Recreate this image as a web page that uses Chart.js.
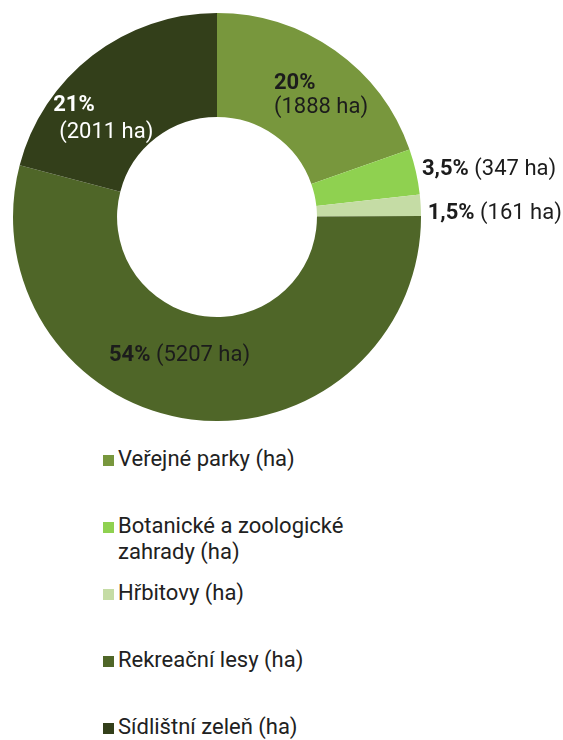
<!DOCTYPE html>
<html lang="cs">
<head>
<meta charset="utf-8">
<title>Struktura ploch zeleně</title>
<script src="https://cdn.jsdelivr.net/npm/chart.js@4.4.1/dist/chart.umd.min.js"></script>
<style>
    html, body { margin: 0; padding: 0; background: #fff; }
    body { width: 563px; height: 740px; position: relative; overflow: hidden; font-family: Roboto, 'Noto Sans', sans-serif; }
    #wrap { position: absolute; left: 0; top: 0; width: 563px; height: 440px; }
    #legend { position: absolute; left: 103px; top: 446px; margin: 0; padding: 0; list-style: none; }
    #legend li { position: relative; height: 67px; width: 260px; padding-left: 15px; font-size: 22px; line-height: 26px; color: #212121; }
    #legend li .box { position: absolute; left: 0; top: 9px; width: 11px; height: 11px; }
</style>
</head>
<body>
<div id="wrap"><canvas id="greenChart" width="563" height="440"></canvas></div>
<ul id="legend"></ul>

<script>
    // ─── 1. DATA ────────────────────────────────────────────────────────────────
    const categories = ['Veřejné parky (ha)', 'Botanické a zoologické zahrady (ha)', 'Hřbitovy (ha)', 'Rekreační lesy (ha)', 'Sídlištní zeleň (ha)'];
    const areaHa     = [1888, 347, 161, 5207, 2011];
    const shareText  = ['20%', '3,5%', '1,5%', '54%', '21%'];
    const colors     = ['#78973d', '#8fd150', '#c5dca5', '#4f6628', '#333f1a'];

    // where each value label sits, relative to its slice
    const labelLayout = [
        { mode: 'inside',  dx: -31, dy: -12,  gap: 24, indent: 0, color: '#1c1c1c' },
        { mode: 'outside', dx: 6,   dy: -4.5, color: '#1c1c1c' },
        { mode: 'outside', dx: 7,   dy: 6,    color: '#1c1c1c' },
        { mode: 'single',  dx: -89, dy: -15,  color: '#1c1c1c' },
        { mode: 'inside',  dx: -71, dy: 7,    gap: 27, indent: 6, color: '#ffffff' }
    ];

    const FONT_SIZE = 22;
    const fontBold  = `bold ${FONT_SIZE}px Roboto`;
    const fontReg   = `${FONT_SIZE}px Roboto`;

    // ─── 2. POPISKY HODNOT ─────────────────────────────────────────────────────
    function drawRuns(ctx, runs, x, yCenter, color) {
        // y is the cap-height middle, turn it into an alphabetic baseline
        const base = yCenter + FONT_SIZE * 0.355;
        ctx.fillStyle = color;
        runs.forEach(r => {
            ctx.font = r.bold ? fontBold : fontReg;
            ctx.fillText(r.t, x, base);
            x += ctx.measureText(r.t).width;
        });
    }

    const valueLabels = {
        id: 'valueLabels',
        afterDatasetsDraw(chart) {
            const ctx = chart.ctx;
            const meta = chart.getDatasetMeta(0);
            ctx.save();
            ctx.textAlign = 'left';
            ctx.textBaseline = 'alphabetic';
            meta.data.forEach((arc, i) => {
                const p = arc.getProps(['x', 'y', 'startAngle', 'endAngle', 'innerRadius', 'outerRadius'], true);
                const mid = (p.startAngle + p.endAngle) / 2;
                const lay = labelLayout[i];
                const ha = '(' + areaHa[i] + ' ha)';
                const r = lay.mode === 'outside' ? p.outerRadius : (p.innerRadius + p.outerRadius) / 2;
                const ax = p.x + Math.cos(mid) * r + lay.dx;
                const ay = p.y + Math.sin(mid) * r + lay.dy;

                if (lay.mode === 'inside') {
                    drawRuns(ctx, [{ t: shareText[i], bold: true }], ax, ay, lay.color);
                    drawRuns(ctx, [{ t: ha }], ax + lay.indent, ay + lay.gap, lay.color);
                } else {
                    drawRuns(ctx, [{ t: shareText[i], bold: true }, { t: ' ' + ha }], ax, ay, lay.color);
                }
            });
            ctx.restore();
        }
    };

    // ─── 3. GRAF ────────────────────────────────────────────────────────────────
    const chart = new Chart(document.getElementById('greenChart'), {
        type: 'doughnut',
        data: {
            labels: categories,
            datasets: [{ data: areaHa, backgroundColor: colors, borderWidth: 0, hoverOffset: 0 }]
        },
        options: {
            responsive: false,
            animation: false,
            cutout: '49%',
            layout: { padding: { left: 13, top: 13, right: 142, bottom: 19 } },
            plugins: { legend: { display: false }, tooltip: { enabled: false } },
            events: []
        },
        plugins: [valueLabels]
    });

    // ─── 4. LEGENDA ─────────────────────────────────────────────────────────────
    function renderLegend(chart) {
        const ul = document.getElementById('legend');
        const items = chart.options.plugins.legend.labels.generateLabels(chart);
        ul.innerHTML = items.map(it =>
            `<li><span class="box" style="background:${it.fillStyle}"></span>${it.text}</li>`
        ).join('');
    }
    renderLegend(chart);
</script>
</body>
</html>
